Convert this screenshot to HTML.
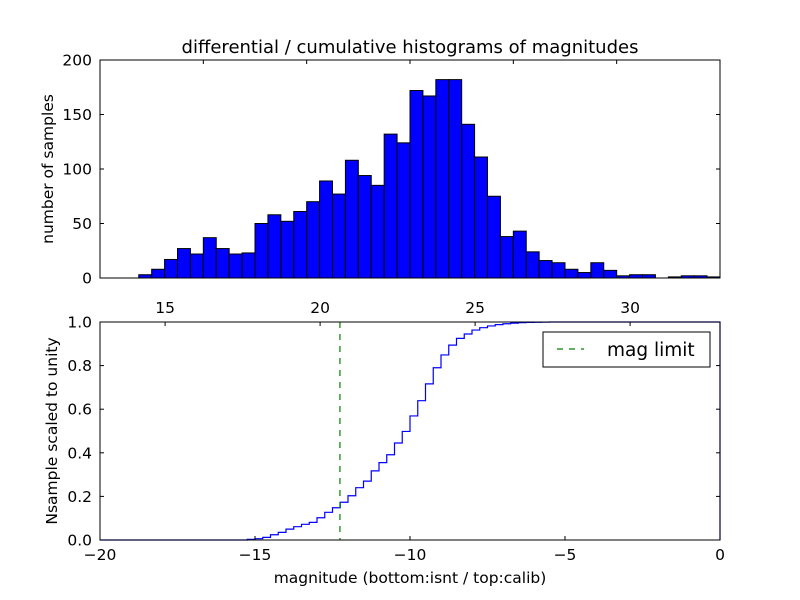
<!DOCTYPE html>
<html><head><meta charset="utf-8"><style>
body{margin:0;background:#fff;}
svg{display:block;font-family:"DejaVu Sans","Liberation Sans",sans-serif;}
</style></head><body>
<svg id="fig" width="800" height="600" viewBox="0 0 800 600">
<rect width="800" height="600" fill="#fff"/>
<text x="410" y="53" font-size="18" text-anchor="middle">differential / cumulative histograms of magnitudes</text>
<text transform="translate(53,169) rotate(-90)" font-size="15.5" text-anchor="middle">number of samples</text>
<text transform="translate(57,431) rotate(-90)" font-size="15.5" text-anchor="middle">Nsample scaled to unity</text>
<text x="410" y="583" font-size="15.5" text-anchor="middle">magnitude (bottom:isnt / top:calib)</text>
<g id="topPlot"></g>
<g id="botPlot"></g>
</svg>
<script>
const histStart = 12.9;
const histEnd = 32.9;
const histCounts = [0,0,0,3,8,17,27,22,37,27,22,23,50,58,52,61,70,89,77,108,94,85,132,124,172,167,182,182,141,111,75,38,43,24,16,14,8,5,14,7,2,3,3,0,1,2,2,1];
const histYTicks = [0,50,100,150,200];
const cumStart = -20;
const cumEnd = 0;
const cumFrac = [0,0,0,0,0,0,0,0,0,0,0,0,0,0,0,0,0,0,0,0.003,0.006,0.012,0.024,0.035,0.05,0.061,0.072,0.081,0.102,0.127,0.148,0.173,0.203,0.24,0.27,0.317,0.355,0.391,0.445,0.498,0.569,0.639,0.716,0.79,0.849,0.894,0.925,0.945,0.963,0.974,0.982,0.988,0.992,0.995,0.997,0.998,0.999,0.9995,1,1,1,1,1,1,1,1,1,1,1,1,1,1,1,1,1,1,1,1,1,1];
const cumXTicks = [-20,-15,-10,-5,0];
const cumYTicks = [0,0.2,0.4,0.6,0.8,1.0];
const calibTicks = [15,20,25,30];
const calibOffset = 32.9;
const magLimit = -12.26;

const NS='http://www.w3.org/2000/svg';
function mk(tag,attrs,parent){const e=document.createElementNS(NS,tag);for(const k in attrs)e.setAttribute(k,attrs[k]);parent.appendChild(e);return e;}
const L=100,R=720,T1=60,B1=278,T2=322,B2=540;
const topG=document.getElementById('topPlot'), botG=document.getElementById('botPlot');
const hx=v=>L+(v-histStart)/(histEnd-histStart)*(R-L);
const hy=v=>B1-v/200*(B1-T1);
const cx=v=>L+(v-cumStart)/(cumEnd-cumStart)*(R-L);
const cy=v=>B2-v*(B2-T2);

const bw=(histEnd-histStart)/histCounts.length;
histCounts.forEach((c,i)=>{
  const x0=hx(histStart+i*bw), x1=hx(histStart+(i+1)*bw);
  const r=mk('rect',{x:x0,y:hy(c),width:x1-x0,height:B1-hy(c),fill:'#0000ff',stroke:'#000','stroke-width':1},topG);
  
  
});
let f=mk('rect',{x:L,y:T1,width:R-L,height:B1-T1,fill:'none',stroke:'#000','stroke-width':1},topG);


histYTicks.forEach(v=>{
  const y=hy(v);
  mk('line',{x1:L,x2:L+4,y1:y,y2:y,stroke:'#000'},topG);
  mk('line',{x1:R,x2:R-4,y1:y,y2:y,stroke:'#000'},topG);
  const t=mk('text',{x:L-8,y:y+5.5,'font-size':15.5,'text-anchor':'end'},topG);
  t.textContent=v;
  
  
});
for(let k=1;k<6;k++){const x=L+(R-L)*k/6;mk('line',{x1:x,x2:x,y1:T1,y2:T1+4,stroke:'#000'},topG);}

const cw=(cumEnd-cumStart)/cumFrac.length;
let d='M'+cx(cumStart)+','+cy(0);
cumFrac.forEach((v,i)=>{d+=' V'+cy(v)+' H'+cx(cumStart+(i+1)*cw);});
d+=' V'+cy(0);
const p=mk('path',{d:d,fill:'none',stroke:'#0000ff','stroke-width':1.2},botG);


const ml=mk('line',{x1:cx(magLimit),x2:cx(magLimit),y1:T2,y2:B2,stroke:'#008000','stroke-width':1.2,'stroke-dasharray':'6,6'},botG);


f=mk('rect',{x:L,y:T2,width:R-L,height:B2-T2,fill:'none',stroke:'#000','stroke-width':1},botG);


cumYTicks.forEach(v=>{
  const y=cy(v);
  mk('line',{x1:L,x2:L+4,y1:y,y2:y,stroke:'#000'},botG);
  mk('line',{x1:R,x2:R-4,y1:y,y2:y,stroke:'#000'},botG);
  const t=mk('text',{x:L-8,y:y+5.5,'font-size':15.5,'text-anchor':'end'},botG);
  t.textContent=v.toFixed(1);
  
  
});
cumXTicks.forEach(v=>{
  const x=cx(v);
  mk('line',{x1:x,x2:x,y1:B2,y2:B2-4,stroke:'#000'},botG);
  const t=mk('text',{x:x,y:B2+20,'font-size':15.5,'text-anchor':'middle'},botG);
  t.textContent=v<0?'\u2212'+(-v):v;
  
  
});
calibTicks.forEach(v=>{
  const x=cx(v-calibOffset);
  mk('line',{x1:x,x2:x,y1:T2,y2:T2+4,stroke:'#000'},botG);
  const t=mk('text',{x:x,y:T2-9,'font-size':15.5,'text-anchor':'middle'},botG);
  t.textContent=v;
  
  
});
const lg=mk('g',{},botG);


mk('rect',{x:543,y:332,width:167,height:35,fill:'#fff',stroke:'#000','stroke-width':1},lg);
mk('line',{x1:557,x2:584,y1:349,y2:349,stroke:'#008000','stroke-width':1.2,'stroke-dasharray':'6,6'},lg);
const lt=mk('text',{x:607,y:356,'font-size':18.5},lg);
lt.textContent='mag limit';


</script>
</body></html>
